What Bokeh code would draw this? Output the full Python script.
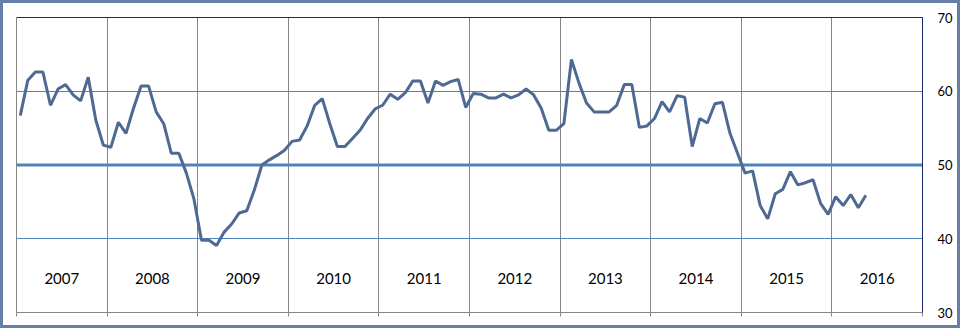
from bokeh.plotting import figure
from bokeh.models import Range1d, LinearAxis, FixedTicker, Span
from bokeh.core.properties import value
from bokeh.embed import file_html
from bokeh.resources import INLINE

start_year = 2007
years = list(range(2007, 2017))
year_labels = [str(y) for y in years]
y_ticks = [30, 40, 50, 60, 70]
threshold = 50

index_values = [
    56.7, 61.5, 62.6, 62.6, 58.1, 60.3, 60.9, 59.5, 58.7, 61.9, 56.1, 52.7,
    52.4, 55.8, 54.3, 57.7, 60.7, 60.7, 57.2, 55.6, 51.6, 51.6, 48.9, 45.4,
    39.8, 39.8, 39.1, 40.9, 42.0, 43.5, 43.8, 46.6, 50.0, 50.7, 51.3, 52.0,
    53.2, 53.4, 55.3, 58.1, 59.0, 55.6, 52.5, 52.5, 53.6, 54.7, 56.3, 57.6,
    58.1, 59.6, 58.9, 59.8, 61.4, 61.4, 58.4, 61.4, 60.8, 61.3, 61.6, 57.8,
    59.7, 59.6, 59.1, 59.1, 59.6, 59.1, 59.5, 60.3, 59.5, 57.7, 54.7, 54.7,
    55.6, 64.3, 61.1, 58.4, 57.2, 57.2, 57.2, 58.1, 60.9, 60.9, 55.1, 55.3,
    56.3, 58.6, 57.2, 59.4, 59.2, 52.5, 56.3, 55.7, 58.3, 58.5, 54.3, 51.6,
    48.9, 49.2, 44.5, 42.7, 46.1, 46.7, 49.1, 47.3, 47.6, 48.0, 44.8, 43.3,
    45.7, 44.5, 46.0, 44.2, 45.9,
]

months_x = [start_year + (i + 0.5) / 12 for i in range(len(index_values))]

GRAY = "#868686"
NAVY = "#1a2a6c"
BLUE = "#4f81bd"
LINE = "#4f6a92"
FONT = "Lato"

p = figure(width=960, height=328,
           x_range=Range1d(years[0], years[-1] + 1),
           y_range=Range1d(y_ticks[0], y_ticks[-1]),
           output_backend="svg", toolbar_location=None,
           x_axis_location=None, y_axis_location=None,
           min_border_left=13, min_border_right=41,
           min_border_top=14, min_border_bottom=19,
           outline_line_color=None,
           background_fill_color="white", border_fill_color="white")
p.styles = {"border": "3px solid #667fa6"}

# grids
p.xgrid.ticker = FixedTicker(ticks=years)
p.xgrid.grid_line_color = GRAY
p.xgrid.grid_line_width = 1
p.ygrid.ticker = FixedTicker(ticks=[t for t in y_ticks if t not in (y_ticks[0], y_ticks[-1], threshold)])
p.ygrid.grid_line_color = BLUE
p.ygrid.grid_line_width = 1

p.add_layout(Span(location=threshold, dimension="width", line_color=BLUE,
                  line_width=3, level="underlay"))

# axes
bottom = LinearAxis(ticker=FixedTicker(ticks=years + [years[-1] + 1]),
                    major_tick_out=4, major_tick_in=0,
                    axis_line_color=GRAY, major_tick_line_color=GRAY,
                    minor_tick_line_color=None,
                    major_label_overrides={y: "" for y in years + [years[-1] + 1]})
p.add_layout(bottom, "below")

right = LinearAxis(ticker=FixedTicker(ticks=y_ticks),
                   major_tick_out=0, major_tick_in=0,
                   axis_line_color=NAVY, major_tick_line_color=None,
                   minor_tick_line_color=None, major_label_standoff=15,
                   major_label_text_font=FONT, major_label_text_font_size="13px",
                   major_label_text_color="black")
p.add_layout(right, "right")

top = LinearAxis(ticker=FixedTicker(ticks=[]), axis_line_color=NAVY,
                 major_tick_line_color=None, minor_tick_line_color=None)
p.add_layout(top, "above")

left = LinearAxis(ticker=FixedTicker(ticks=[]), axis_line_color=GRAY,
                  major_tick_line_color=None, minor_tick_line_color=None)
p.add_layout(left, "left")

# data line
p.line(months_x, index_values, line_color=LINE, line_width=3)

# year labels inside plot
label_y = 34.55
p.text(x=[y + 0.5 for y in years], y=[label_y] * len(years), text=year_labels,
       text_align="center", text_baseline="middle",
       text_font=value(FONT), text_font_size="15px", text_color="black")

open("out.html", "w").write(file_html(p, INLINE))
